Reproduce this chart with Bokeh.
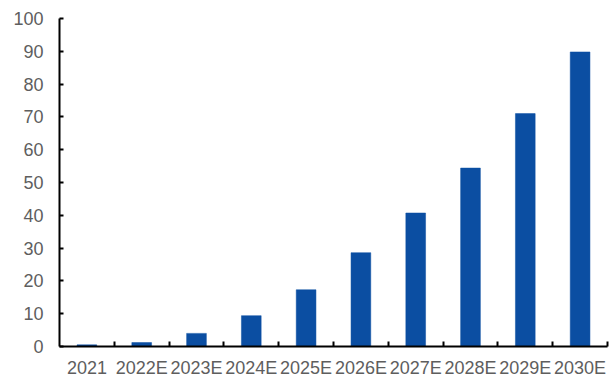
from bokeh.plotting import figure
from bokeh.models import ColumnDataSource, FixedTicker, Range1d
from bokeh.embed import file_html
from bokeh.resources import INLINE

# Yearly values (2021 actual, later years estimated)
years = ["2021", "2022E", "2023E", "2024E", "2025E", "2026E", "2027E", "2028E", "2029E", "2030E"]
values = [0.5, 1.2, 4.0, 9.4, 17.3, 28.6, 40.7, 54.4, 71.0, 89.8]
y_ticks = [0, 10, 20, 30, 40, 50, 60, 70, 80, 90, 100]

n = len(years)
centers = [i + 0.5 for i in range(n)]
source = ColumnDataSource(data=dict(x=centers, top=values, label=years))

p = figure(width=609, height=380, output_backend="svg", toolbar_location=None,
           x_range=Range1d(0, n), y_range=Range1d(0, 100),
           min_border_left=59, min_border_right=2, min_border_top=18, min_border_bottom=33)

p.vbar(x="x", top="top", width=0.36, source=source,
       fill_color="#0B4EA2", line_color="#0B4EA2", line_width=0.5)

label_color = "#5E5E5E"
font = "Liberation Sans"

# category axis: labels under bar centres, ticks on category boundaries
xa = p.xaxis[0]
xa.ticker = FixedTicker(ticks=centers, minor_ticks=list(range(1, n + 1)))
xa.major_label_overrides = {c: y for c, y in zip(centers, years)}
xa.major_tick_in = 0
xa.major_tick_out = 0
xa.minor_tick_in = 5
xa.minor_tick_out = 0
xa.minor_tick_line_color = "black"
xa.minor_tick_line_width = 2
xa.axis_line_color = "black"
xa.axis_line_width = 2
xa.major_label_text_font = font
xa.major_label_text_font_size = "18px"
xa.major_label_text_color = label_color
xa.major_label_standoff = 11

ya = p.yaxis[0]
ya.ticker = FixedTicker(ticks=y_ticks)
ya.major_tick_in = 4
ya.major_tick_out = 0
ya.major_tick_line_color = "black"
ya.major_tick_line_width = 2
ya.minor_tick_line_color = None
ya.axis_line_color = "black"
ya.axis_line_width = 2
ya.major_label_text_font = font
ya.major_label_text_font_size = "18px"
ya.major_label_text_color = label_color
ya.major_label_standoff = 16

p.xgrid.grid_line_color = None
p.ygrid.grid_line_color = None
p.outline_line_color = None
p.background_fill_color = "white"
p.border_fill_color = "white"

open("out.html", "w").write(file_html(p, INLINE))
